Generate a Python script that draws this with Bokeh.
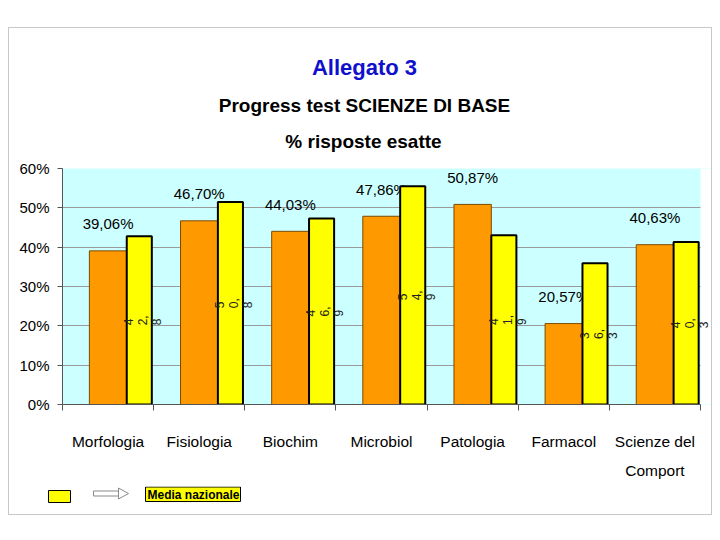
import math
from bokeh.plotting import figure
from bokeh.layouts import column, row
from bokeh.models import (ColumnDataSource, FixedTicker, PrintfTickFormatter, LabelSet,
                          Range1d, Spacer)
from bokeh.core.properties import value
from bokeh.embed import file_html
from bokeh.resources import INLINE

# ---- data ----
titles = ["Allegato 3", "Progress test SCIENZE DI BASE", "% risposte esatte"]
categories = ["Morfologia", "Fisiologia", "Biochim", "Microbiol", "Patologia", "Farmacol", "Scienze del\nComport"]
ateneo = [39.06, 46.70, 44.03, 47.86, 50.87, 20.57, 40.63]
ateneo_labels = ["39,06%", "46,70%", "44,03%", "47,86%", "50,87%", "20,57%", "40,63%"]
media = [42.8, 51.5, 47.3, 55.5, 43.0, 35.9, 41.3]
media_labels = ["4\n2,\n8", "5\n0,\n8", "4\n6,\n9", "5\n4,\n9", "4\n1,\n9", "3\n6,\n3", "4\n0,\n3"]
legend_label = "Media nazionale"
yticks = [0, 10, 20, 30, 40, 50, 60]

# ---- page geometry (pixels) ----
BOX_L, BOX_T = 9, 28                # inner top-left of the bordered box
BOX_W = 702
TOP_H = 130                         # title strip: page y 28..158
MAIN_T, MAIN_H = 158, 328           # chart: page y 158..486
LEG_T, LEG_H = 486, 28              # legend strip: page y 486..514
FRAME_L, FRAME_T, FRAME_B = 62, 168, 404
PLOT_R = 700
n = len(categories)
XU = (PLOT_R - FRAME_L) / n
xmax = (BOX_L + BOX_W - FRAME_L) / XU

def no_align(f):
    try:
        f.frame_align = False
    except Exception:
        pass

def strip(h, top):
    f = figure(width=BOX_W, height=h, output_backend="svg", toolbar_location=None,
               x_range=Range1d(BOX_L, BOX_L + BOX_W), y_range=Range1d(top + h, top),
               x_axis_type=None, y_axis_type=None, min_border=0)
    f.outline_line_color = None
    f.background_fill_color = "white"
    f.border_fill_color = "white"
    no_align(f)
    return f

# ---- title strip ----
pt = strip(TOP_H, BOX_T)
pt.text(x=[364], y=[67], text=[titles[0]], text_align="center", text_baseline="middle",
        text_font=value("Liberation Sans"), text_font_style="bold", text_font_size="22px",
        text_color="#1010CC")
pt.text(x=[364, 363], y=[105, 141], text=titles[1:], text_align="center", text_baseline="middle",
        text_font=value("Liberation Sans"), text_font_style="bold", text_font_size="19px",
        text_color="black")

# ---- main chart ----
centers = [i + 0.5 for i in range(n)]
OW = 0.41
YW = 0.275
ycenters = [c + OW / 2 + YW / 2 for c in centers]

p = figure(width=BOX_W, height=MAIN_H, output_backend="svg", toolbar_location=None,
           x_range=Range1d(0, xmax), y_range=Range1d(0, 60),
           min_border_left=FRAME_L - BOX_L, min_border_right=0,
           min_border_top=FRAME_T - MAIN_T, min_border_bottom=MAIN_T + MAIN_H - FRAME_B)
no_align(p)
p.background_fill_color = "#CCFFFF"
p.border_fill_color = "white"
p.outline_line_color = None
p.xgrid.grid_line_color = None
p.ygrid.grid_line_color = "#9a9a9a"
p.ygrid.ticker = FixedTicker(ticks=yticks)

p.xaxis.ticker = FixedTicker(ticks=centers, minor_ticks=list(range(n + 1)))
p.xaxis.major_label_overrides = {c: t for c, t in zip(centers, categories)}
p.xaxis.bounds = (0, n)
p.xaxis.major_tick_out = 0
p.xaxis.major_tick_in = 0
p.xaxis.minor_tick_out = 6
p.xaxis.minor_tick_in = 0
p.xaxis.minor_tick_line_color = "#555555"
p.xaxis.axis_line_color = "#555555"
p.xaxis.major_label_standoff = 22
p.xaxis.major_label_text_font = "Liberation Sans"
p.xaxis.major_label_text_font_size = "15.5px"
p.xaxis.major_label_text_color = "black"
p.xaxis.major_label_text_line_height = 1.75

p.yaxis.ticker = FixedTicker(ticks=yticks)
p.yaxis.formatter = PrintfTickFormatter(format="%d%%")
p.yaxis.major_tick_out = 5
p.yaxis.major_tick_in = 0
p.yaxis.minor_tick_line_color = None
p.yaxis.axis_line_color = "#555555"
p.yaxis.major_tick_line_color = "#555555"
p.yaxis.major_label_standoff = 8
p.yaxis.major_label_text_font = "Liberation Sans"
p.yaxis.major_label_text_font_size = "15px"
p.yaxis.major_label_text_color = "black"

# white strip right of the coloured plot area
p.quad(left=[n], right=[xmax], bottom=[0], top=[60], fill_color="white", line_color=None)

src = ColumnDataSource(dict(x=centers, xy=ycenters, a=ateneo, m=media,
                            m_half=[v / 2 for v in media],
                            alab=ateneo_labels, mlab=media_labels,
                            mx=[c + 0.385 for c in centers]))

p.vbar(x="x", top="a", width=OW, bottom=0, source=src, fill_color="#FF9900",
       line_color="#7a4a00", line_width=1)
p.text(x="x", y="a", text="alab", source=src, text_align="center", text_baseline="middle",
       y_offset=-27, text_font=value("Liberation Sans"), text_font_size="15px",
       text_color="black")
p.vbar(x="xy", top="m", width=YW, bottom=0, source=src, fill_color="#FFFF00",
       line_color="black", line_width=2)
p.add_layout(LabelSet(x="mx", y="m_half", text="mlab", source=src, angle=math.pi / 2,
                      text_align="center", text_baseline="middle",
                      text_font=value("Liberation Sans"), text_font_size="12px",
                      text_line_height=1.0, text_color="#222222"))

# ---- legend strip ----
pl = strip(LEG_H, LEG_T)
pl.quad(left=[48], right=[70], top=[490], bottom=[502], fill_color="#FFFF00",
        line_color="black", line_width=1)
pl.quad(left=[93], right=[119], top=[490.5], bottom=[495.5], fill_color="white",
        line_color="#8a8a8a", line_width=1)
pl.patch(x=[118, 118, 128], y=[487.5, 498.5, 493], fill_color="white",
         line_color="#8a8a8a", line_width=1)
pl.quad(left=[145], right=[240], top=[486.5], bottom=[501], fill_color="#FFFF00",
        line_color="black", line_width=1)
pl.text(x=[147], y=[494], text=[legend_label], text_align="left", text_baseline="middle",
        text_font=value("Liberation Sans"), text_font_style="bold", text_font_size="12px",
        text_color="black")

inner = column(pt, p, pl, spacing=0, styles={"border": "1px solid #c8c8c8"})
layout = column(Spacer(width=8, height=27), row(Spacer(width=8, height=10), inner, spacing=0),
                spacing=0)

open("out.html", "w").write(file_html(layout, INLINE))
